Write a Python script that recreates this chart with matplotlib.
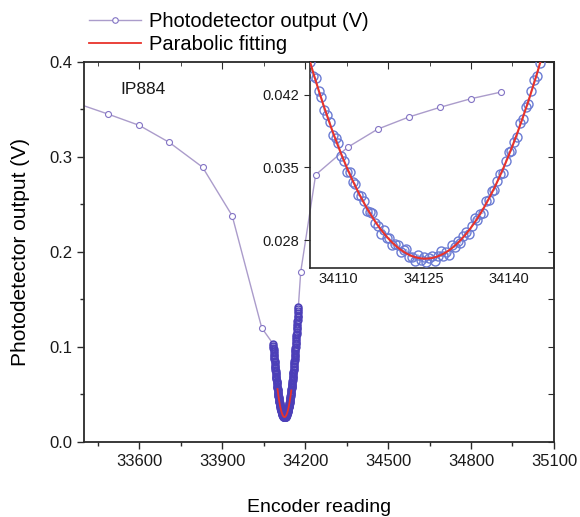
import numpy as np
import matplotlib
matplotlib.use("Agg")
import matplotlib.pyplot as plt
from matplotlib.lines import Line2D
from matplotlib.ticker import MultipleLocator, FormatStrFormatter

plt.rcParams['font.family'] = ['Liberation Sans', 'DejaVu Sans']

# coarse scan
coarse_left_x = [33376, 33486, 33600, 33709, 33829, 33936, 34043]
coarse_left_y = [0.356, 0.345, 0.333, 0.315, 0.289, 0.238, 0.120]
coarse_right_x = [34184, 34238, 34354, 34462, 34577, 34688, 34799, 34908]
coarse_right_y = [0.179, 0.281, 0.310, 0.329, 0.342, 0.352, 0.361, 0.368]

# fine scan around the dip, encoder step 0.5, output in units of 1e-4 V
scan_start = 34084.5
scan_step = 0.5
dense_y_e4 = [
    1030, 1006, 992, 977, 952, 937, 915, 905, 884, 870,
    849, 836, 821, 800, 789, 776, 755, 742, 723, 716,
    697, 686, 668, 658, 646, 627, 619, 609, 590, 580,
    564, 559, 544, 536, 520, 513, 503, 488, 482, 475,
    459, 452, 438, 436, 424, 418, 405, 401, 394, 381,
    378, 374, 361, 356, 346, 346, 336, 334, 323, 322,
    318, 308, 307, 306, 296, 294, 286, 290, 282, 282,
    275, 276, 275, 268, 270, 271, 264, 264, 260, 266,
    261, 264, 259, 263, 265, 260, 265, 269, 265, 268,
    266, 275, 273, 279, 277, 284, 288, 286, 294, 301,
    299, 305, 306, 318, 319, 327, 328, 337, 344, 345,
    356, 365, 366, 375, 379, 393, 397, 408, 411, 424,
    434, 438, 451, 463, 467, 479, 485, 502, 509, 522,
    528, 544, 556, 563, 579, 594, 600, 615, 624, 644,
    653, 670, 679, 697, 712, 721, 740, 758, 767, 784,
    796, 819, 831, 850, 862, 883, 901, 913, 934, 955,
    967, 987, 1001, 1027, 1042, 1064, 1078, 1102, 1123, 1138,
    1162, 1185, 1200, 1223, 1240, 1268, 1286, 1311, 1328, 1354,
    1378, 1395, 1422]

fit_range = (34100, 34150)

dense_x = scan_start + scan_step * np.arange(len(dense_y_e4))
dense_y = np.array(dense_y_e4) * 1e-4

all_x = np.concatenate([coarse_left_x, dense_x, coarse_right_x])
all_y = np.concatenate([coarse_left_y, dense_y, coarse_right_y])

# parabolic fit of the fine scan near the minimum
sel = (dense_x >= fit_range[0]) & (dense_x <= fit_range[1])
coef = np.polyfit(dense_x[sel], dense_y[sel], 2)
fit_x = np.linspace(fit_range[0], fit_range[1], 300)
fit_y = np.polyval(coef, fit_x)

line_col = '#ab9ccb'
mark_col = '#8273c4'
dense_col = '#4c3fb8'
inset_col = '#6a7bd3'
fit_col = '#e8332b'
axis_col = '#2a2a2a'

fig = plt.figure(figsize=(5.8, 5.17), dpi=100)
ax = fig.add_axes([0.1448, 0.1451, 0.8103, 0.7356])

ax.plot(all_x, all_y, '-', color=line_col, lw=1.0, marker='o', ms=4.3,
        mfc='white', mec=mark_col, mew=0.8, zorder=2)
ax.plot(dense_x, dense_y, 'o', ms=5.0, mfc='none', mec=dense_col, mew=1.0, zorder=3)
ax.plot(fit_x, fit_y, '-', color=fit_col, lw=1.3, zorder=4)

ax.set_xlim(33400, 35100)
ax.set_ylim(0.0, 0.4)
ax.xaxis.set_major_locator(MultipleLocator(300))
ax.xaxis.set_minor_locator(MultipleLocator(150))
ax.yaxis.set_major_locator(MultipleLocator(0.1))
ax.yaxis.set_minor_locator(MultipleLocator(0.05))
ax.yaxis.set_major_formatter(FormatStrFormatter('%.1f'))
ax.tick_params(which='both', direction='out', color=axis_col, labelsize=12,
               labelcolor='#1a1a1a', width=1.0)
ax.tick_params(which='major', length=5)
ax.tick_params(which='minor', length=3)
for s in ax.spines.values():
    s.set_color(axis_col)
    s.set_linewidth(1.3)

ax.set_xlabel('Encoder reading', fontsize=14, labelpad=22)
ax.set_ylabel('Photodetector output (V)', fontsize=15, labelpad=14)
ax.text(33530, 0.371, 'IP884', fontsize=12.5, color='#1a1a1a', va='center')

# top and right ticks point inward, so they go on twin axes
axt = ax.twiny()
axt.set_xlim(ax.get_xlim())
axt.xaxis.set_major_locator(MultipleLocator(300))
axt.xaxis.set_minor_locator(MultipleLocator(150))
axt.tick_params(which='both', direction='in', labeltop=False, color=axis_col)
axt.tick_params(which='major', length=5)
axt.tick_params(which='minor', length=3)
axr = ax.twinx()
axr.set_ylim(ax.get_ylim())
axr.yaxis.set_major_locator(MultipleLocator(0.05))
axr.tick_params(which='both', direction='in', labelright=False, color=axis_col, length=4)
for a in (axt, axr):
    for s in a.spines.values():
        s.set_visible(False)

# inset (transparent, the coarse line shows through)
ins = fig.add_axes([0.5345, 0.4816, 0.4207, 0.3991])
ins.patch.set_alpha(0)
ins.plot(dense_x, dense_y, '-', color='#9fb0e6', lw=0.8, zorder=2)
ins.plot(dense_x, dense_y, 'o', ms=6.5, mfc='none', mec=inset_col, mew=1.0, zorder=3)
ins.plot(fit_x, fit_y, '-', color=fit_col, lw=1.5, zorder=4)
ins.set_xlim(34105, 34148)
ins.set_ylim(0.0253, 0.0452)
ins.set_xticks([34110, 34125, 34140])
ins.set_yticks([0.028, 0.035, 0.042])
ins.yaxis.set_major_formatter(FormatStrFormatter('%.3f'))
ins.tick_params(axis='y', direction='out', length=4, labelsize=10.5, color=axis_col, labelcolor='#1a1a1a')
ins.tick_params(axis='x', length=0, labelsize=10.5, pad=3, labelcolor='#1a1a1a')
for s in ins.spines.values():
    s.set_color(axis_col)
    s.set_linewidth(1.2)

# legend above the plot
handles = [Line2D([], [], color=line_col, lw=1.0, marker='o', ms=4.0, mfc='white',
                  mec=mark_col, mew=0.8),
           Line2D([], [], color=fit_col, lw=1.3)]
fig.legend(handles, ['Photodetector output (V)', 'Parabolic fitting'],
           loc='upper left', bbox_to_anchor=(0.125, 1.008), frameon=False,
           fontsize=14.5, handlelength=2.6, handletextpad=0.4, labelspacing=0.2,
           borderpad=0.3, numpoints=1)

fig.savefig('out.png', dpi=100, facecolor='white')
